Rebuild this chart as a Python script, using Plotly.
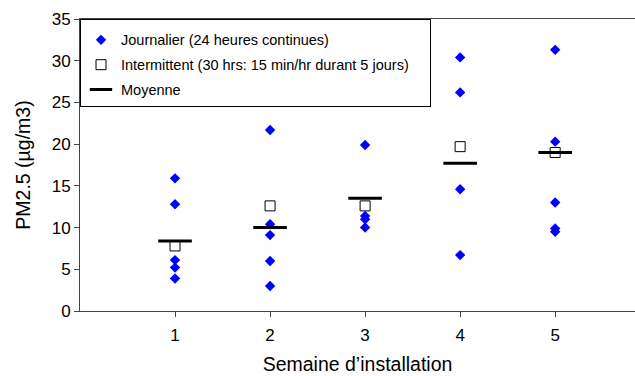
import plotly.graph_objects as go

weeks = [1, 2, 3, 4, 5]
daily = {
    1: [15.9, 12.8, 6.1, 5.2, 3.9],
    2: [21.7, 10.4, 9.1, 6.0, 3.0],
    3: [19.9, 11.4, 11.0, 10.0],
    4: [30.4, 26.2, 14.6, 6.7],
    5: [31.3, 20.3, 13.0, 9.9, 9.5],
}
intermittent = [7.8, 12.6, 12.6, 19.7, 19.0]
mean = [8.4, 10.0, 13.5, 17.7, 19.0]
series_names = [
    "Journalier (24 heures continues)",
    "Intermittent (30 hrs: 15 min/hr durant 5 jours)",
    "Moyenne",
]

FONT = "Liberation Sans, Arial, sans-serif"
PAD = "\u00a0" * 4  # widens the legend box like the reference

dx, dy = [], []
for w in weeks:
    for v in daily[w]:
        dx.append(w)
        dy.append(v)

fig = go.Figure()
fig.add_trace(go.Scatter(
    x=dx, y=dy, mode="markers", name=series_names[0],
    legendgroup="a",
    marker=dict(symbol="diamond", size=8, color="#0000FF", line=dict(width=0)),
))
fig.add_trace(go.Scatter(
    x=weeks, y=intermittent, mode="markers",
    name=series_names[1] + PAD, legendgroup="b",
    marker=dict(symbol="square-open", size=10, color="black", line=dict(width=1, color="black")),
))
fig.add_trace(go.Scatter(
    x=weeks, y=mean, mode="markers", name=series_names[2], legendgroup="c",
    marker=dict(symbol="line-ew", size=24, color="black", line=dict(width=3, color="black")),
))

fig.update_layout(
    width=635, height=376,
    margin=dict(l=80, r=0, t=19, b=65),
    paper_bgcolor="white", plot_bgcolor="white",
    font=dict(family=FONT, size=17, color="black"),
    showlegend=True,
    legend=dict(
        x=0, y=1, xanchor="left", yanchor="top",
        bgcolor="white", bordercolor="black", borderwidth=1,
        font=dict(family=FONT, size=14.5, color="black"),
        title=dict(text=" ", font=dict(size=3)),
        traceorder="grouped", tracegroupgap=3,
        itemwidth=30,
    ),
    xaxis=dict(
        range=[0, 5.84], tickvals=weeks, ticktext=[str(w) for w in weeks],
        showgrid=False, zeroline=False, showline=True, linecolor="#444", linewidth=1,
        mirror=True, ticks="outside", ticklen=5, tickcolor="#444",
        ticklabelstandoff=4,
        title=dict(text="Semaine d’installation", font=dict(size=19.5), standoff=12),
        tickfont=dict(size=17),
    ),
    yaxis=dict(
        range=[0, 35], dtick=5, showgrid=False, zeroline=False,
        showline=True, linecolor="#444", linewidth=1,
        ticks="outside", ticklen=5, tickcolor="#444",
        title=dict(text="PM2.5 (µg/m3)", font=dict(size=19.5), standoff=15),
        tickfont=dict(size=17),
    ),
)

fig.write_html("out.html")
